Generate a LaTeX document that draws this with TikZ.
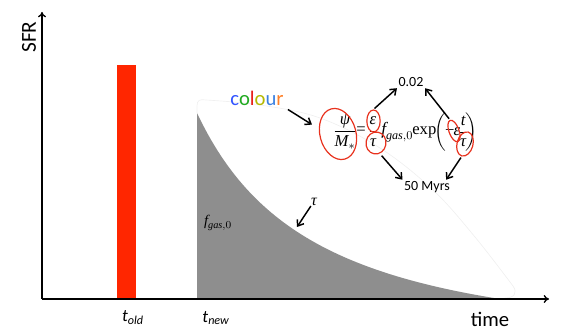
\documentclass[tikz,border=0pt]{standalone}
\usepackage{fontspec}
\usepackage{amsmath}
\setmainfont{Liberation Serif}
\newfontfamily\calib{Carlito}
\usetikzlibrary{shapes.geometric,arrows.meta}
\definecolor{barred}{HTML}{FF2600}
\definecolor{ringred}{HTML}{E8321E}
\definecolor{areagray}{HTML}{8E8E8E}
\definecolor{cA}{HTML}{3355FF}
\definecolor{cB}{HTML}{22AA22}
\definecolor{cC}{HTML}{E8201A}
\definecolor{cD}{HTML}{B5B800}
\definecolor{cE}{HTML}{3A7FE0}
\definecolor{cF}{HTML}{FF7F27}
\newcommand{\eqit}[1]{\text{\itshape #1}}
\begin{document}
\begin{tikzpicture}[x=0.75pt,y=-0.75pt,
  axis/.style={line width=1pt,-{To[length=4pt,width=6pt]}},
  arr/.style={line width=1.1pt,-{Straight Barb[length=4pt,width=6pt]}},
  ring/.style={draw=ringred,line width=0.9pt,ellipse,inner sep=0pt},
  sans/.style={font=\calib\fontsize{#1}{#1}\selectfont,inner sep=1pt},
  serif/.style={font=\fontsize{#1}{#1}\selectfont,inner sep=0pt}]
\useasboundingbox (0,0) rectangle (565,331);
% shaded area
\fill[areagray] (197,299) -- (197,113)
  -- plot[domain=0:303,samples=90] ({197+\x},{299-37*exp(-\x/40)-149*exp(-\x/130)+14.5*\x/303})
  -- cycle;
% faint outline of the white shape
\draw[gray!12,line width=0.5pt] (197,113) -- (197,106) .. controls (197,100) and (200,99) .. (206,100)
  -- plot[smooth,tension=0.6] coordinates {(206,100) (260,105) (320,118) (380,148) (433,190) (475,237) (513,286)}
  .. controls (518,293) and (514,298) .. (505,298);
% red bar
\fill[barred] (117,65) rectangle (136,299);
% axes
\coordinate (o) at (42,299);
\coordinate (ytip) at (42,12);
\coordinate (xtip) at (549,299);
\draw[axis] (o) -- (ytip);
\draw[axis] (o) -- (xtip);
% axis labels
\node[sans=16,rotate=90] (sfr) at (29,37) {SFR};
\node[sans=15.5] (time) at (490,319) {time};
\node[sans=13] (told) at (133,318) {\itshape t\textsubscript{old}};
\node[sans=13] (tnew) at (216,318) {\itshape t\textsubscript{new}};
% labels in the area
\node[serif=11] (fgas) at (218,223) {$\eqit{f}_{\eqit{gas},0}$};
\node[serif=12] (tau) at (314,202) {$\eqit{τ}$};
\coordinate (tauend) at (297,227);
\draw[arr] (tau.south west) -- (tauend);
% equation, piece by piece
\node[serif=12.5] (fr1) at (345,132) {$\dfrac{\eqit{ψ}}{\eqit{M}_{*}}$};
\node[serif=12.5] (eqs) at (361,131) {=};
\node[serif=12.5] (fr2) at (373,132) {$\dfrac{\eqit{ε}}{\eqit{τ}}$};
\node[serif=13,anchor=base west] (fg) at (381,135) {$\eqit{f}_{\eqit{gas},0}$};
\node[serif=12.5,anchor=base west] (ex) at (412,135) {exp};
\node[serif=12.5] (par) at (456,132) {$\left(\mkern-1mu\text{−}\mkern-1mu\eqit{ε}\mkern-2mu\dfrac{\eqit{t}}{\eqit{τ}}\mkern-2mu\right)$};
% rings
\node[ring,minimum width=27pt,minimum height=39pt,rotate=15] (r1) at (338,134) {};
\node[ring,minimum width=10pt,minimum height=16.5pt] (r2) at (373.5,121) {};
\node[ring,minimum width=15pt,minimum height=16.5pt,rotate=-10] (r3) at (376,143) {};
\node[ring,minimum width=7.5pt,minimum height=17pt,rotate=20] (r4) at (454,131) {};
\node[ring,minimum width=12pt,minimum height=18.5pt,rotate=-15] (r5) at (465,144) {};
% value labels
\node[sans=10.5] (v002) at (411,82) {0.02};
\node[sans=10.5] (myrs) at (427,187) {50 Myrs};
\node[sans=15.5] (colour) at (257,98) {\textcolor{cA}{c}\textcolor{cB}{o}\textcolor{cC}{l}\textcolor{cD}{o}\textcolor{cE}{u}\textcolor{cF}{r}};
% connectors
\draw[arr,shorten <=1pt] (r2.north) -- (v002.south west);
\draw[arr,shorten <=1pt] (r4.north) -- (v002.south east);
\draw[arr,shorten <=2pt] (r3.-60) -- (myrs.north west);
\draw[arr,shorten <=1pt] (r5.south) -- ([xshift=-4pt]myrs.north east);
\draw[arr,shorten >=6pt] ([xshift=2pt,yshift=-2pt]colour.south east) -- (r1.150);
\end{tikzpicture}
\end{document}
